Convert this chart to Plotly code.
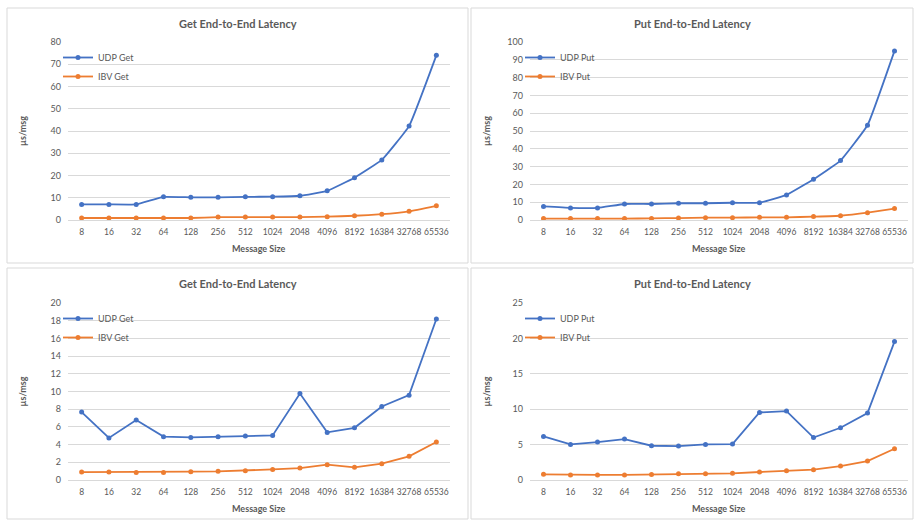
import plotly.graph_objects as go

W, H = 917, 521

sizes = ["8", "16", "32", "64", "128", "256", "512", "1024", "2048",
         "4096", "8192", "16384", "32768", "65536"]

# Run 1 (top row)
udp_get_1 = [7.0, 7.0, 7.0, 10.4, 10.2, 10.2, 10.4, 10.5, 10.9, 13.1, 19.0, 27.0, 42.2, 74.0]
ibv_get_1 = [0.9, 0.9, 0.9, 0.9, 0.9, 1.3, 1.3, 1.3, 1.3, 1.5, 1.9, 2.6, 3.9, 6.4]
udp_put_1 = [7.6, 6.8, 6.8, 9.0, 9.0, 9.4, 9.4, 9.7, 9.7, 14.1, 22.9, 33.4, 53.2, 95.0]
ibv_put_1 = [0.8, 0.8, 0.8, 0.8, 0.9, 1.1, 1.3, 1.3, 1.5, 1.5, 1.9, 2.4, 4.1, 6.4]

# Run 2 (bottom row)
udp_get_2 = [7.67, 4.75, 6.77, 4.9, 4.81, 4.89, 4.96, 5.04, 9.77, 5.38, 5.9, 8.31, 9.59, 18.2]
ibv_get_2 = [0.9, 0.9, 0.86, 0.86, 0.94, 0.98, 1.05, 1.2, 1.35, 1.73, 1.43, 1.84, 2.67, 4.29]
udp_put_2 = [6.16, 5.03, 5.36, 5.78, 4.84, 4.79, 5.03, 5.08, 9.54, 9.73, 6.0, 7.38, 9.45, 19.55]
ibv_put_2 = [0.8, 0.72, 0.72, 0.72, 0.76, 0.9, 0.9, 0.94, 1.13, 1.3, 1.46, 1.97, 2.68, 4.42]

BLUE = "#4472C4"
ORANGE = "#ED7D31"
GRID = "#D9D9D9"
TEXT = "#595959"
FONT = "Lato"


def fx(px):
    return px / W


def fy(py):
    return 1 - py / H


# panel frame and plot area in pixels, y range, tick step, line smoothing
panels = [
    dict(frame=(7, 8, 468, 263), plot=(68, 42, 450, 220), title="Get End-to-End Latency",
         ymax=80, dtick=10, series=(("UDP Get", udp_get_1), ("IBV Get", ibv_get_1)), smooth=True),
    dict(frame=(471, 8, 913, 263), plot=(530, 42, 908, 220), title="Put End-to-End Latency",
         ymax=100, dtick=10, series=(("UDP Put", udp_put_1), ("IBV Put", ibv_put_1)), smooth=True),
    dict(frame=(7, 268, 468, 519), plot=(68, 303, 450, 480), title="Get End-to-End Latency",
         ymax=20, dtick=2, series=(("UDP Get", udp_get_2), ("IBV Get", ibv_get_2)), smooth=False),
    dict(frame=(471, 268, 913, 519), plot=(530, 303, 908, 480), title="Put End-to-End Latency",
         ymax=25, dtick=5, series=(("UDP Put", udp_put_2), ("IBV Put", ibv_put_2)), smooth=False),
]

fig = go.Figure()
shapes = []
annotations = []
layout_extra = {}

for i, p in enumerate(panels, start=1):
    sfx = "" if i == 1 else str(i)
    xa, ya = "x" + sfx, "y" + sfx
    leg = "legend" + sfx
    fx0, fy0, fx1, fy1 = p["frame"]
    px0, py0, px1, py1 = p["plot"]

    for name, vals in p["series"]:
        color = BLUE if name.startswith("UDP") else ORANGE
        fig.add_trace(go.Scatter(
            x=sizes, y=vals, name=name, mode="lines+markers",
            line=dict(color=color, width=1.8,
                      shape="spline" if p["smooth"] else "linear", smoothing=0.3),
            marker=dict(color=color, size=5),
            xaxis=xa, yaxis=ya, legend=leg,
        ))

    layout_extra["xaxis" + sfx] = dict(
        domain=[fx(px0), fx(px1)], anchor=ya, type="category",
        range=[-0.5, len(sizes) - 0.5], showgrid=False, zeroline=False,
        showline=True, linecolor=GRID, linewidth=1, ticks="", tickangle=0,
        tickfont=dict(family=FONT, size=8.5, color=TEXT), ticklabelstandoff=4,
        fixedrange=True, automargin=False,
    )
    layout_extra["yaxis" + sfx] = dict(
        domain=[fy(py1), fy(py0)], anchor=xa, range=[0, p["ymax"]],
        dtick=p["dtick"], tick0=0, showgrid=True, gridcolor=GRID, gridwidth=1,
        zeroline=False, showline=False, ticks="",
        tickfont=dict(family=FONT, size=9, color=TEXT), ticklabelstandoff=6,
        fixedrange=True, automargin=False,
    )
    layout_extra[leg] = dict(
        x=fx(px0 - 10), y=fy(py0 + 1), xanchor="left", yanchor="top",
        bgcolor="rgba(0,0,0,0)", borderwidth=0, itemwidth=30,
        font=dict(family=FONT, size=9, color=TEXT), tracegroupgap=0,
    )

    shapes.append(dict(type="rect", xref="paper", yref="paper",
                       x0=fx(fx0), x1=fx(fx1), y0=fy(fy1), y1=fy(fy0),
                       line=dict(color=GRID, width=1), fillcolor="rgba(0,0,0,0)",
                       layer="below"))

    annotations.append(dict(text="<b>" + p["title"] + "</b>", xref="paper", yref="paper",
                            x=fx((fx0 + fx1) / 2), y=fy(fy0 + 15), xanchor="center",
                            yanchor="middle", showarrow=False,
                            font=dict(family=FONT, size=11, color=TEXT)))
    annotations.append(dict(text="<b>Message Size</b>", xref="paper", yref="paper",
                            x=fx((px0 + px1) / 2), y=fy(py1 + 28), xanchor="center",
                            yanchor="middle", showarrow=False,
                            font=dict(family=FONT, size=9, color=TEXT)))
    annotations.append(dict(text="<b>µs/msg</b>", xref="paper", yref="paper",
                            x=fx(fx0 + 15), y=fy((py0 + py1) / 2), xanchor="center",
                            yanchor="middle", showarrow=False, textangle=-90,
                            font=dict(family=FONT, size=9, color=TEXT)))

fig.update_layout(
    width=W, height=H, margin=dict(l=0, r=0, t=0, b=0, pad=0, autoexpand=False),
    paper_bgcolor="white", plot_bgcolor="white",
    shapes=shapes, annotations=annotations, showlegend=True,
    **layout_extra,
)

fig.write_html("out.html", config={"displayModeBar": False})
